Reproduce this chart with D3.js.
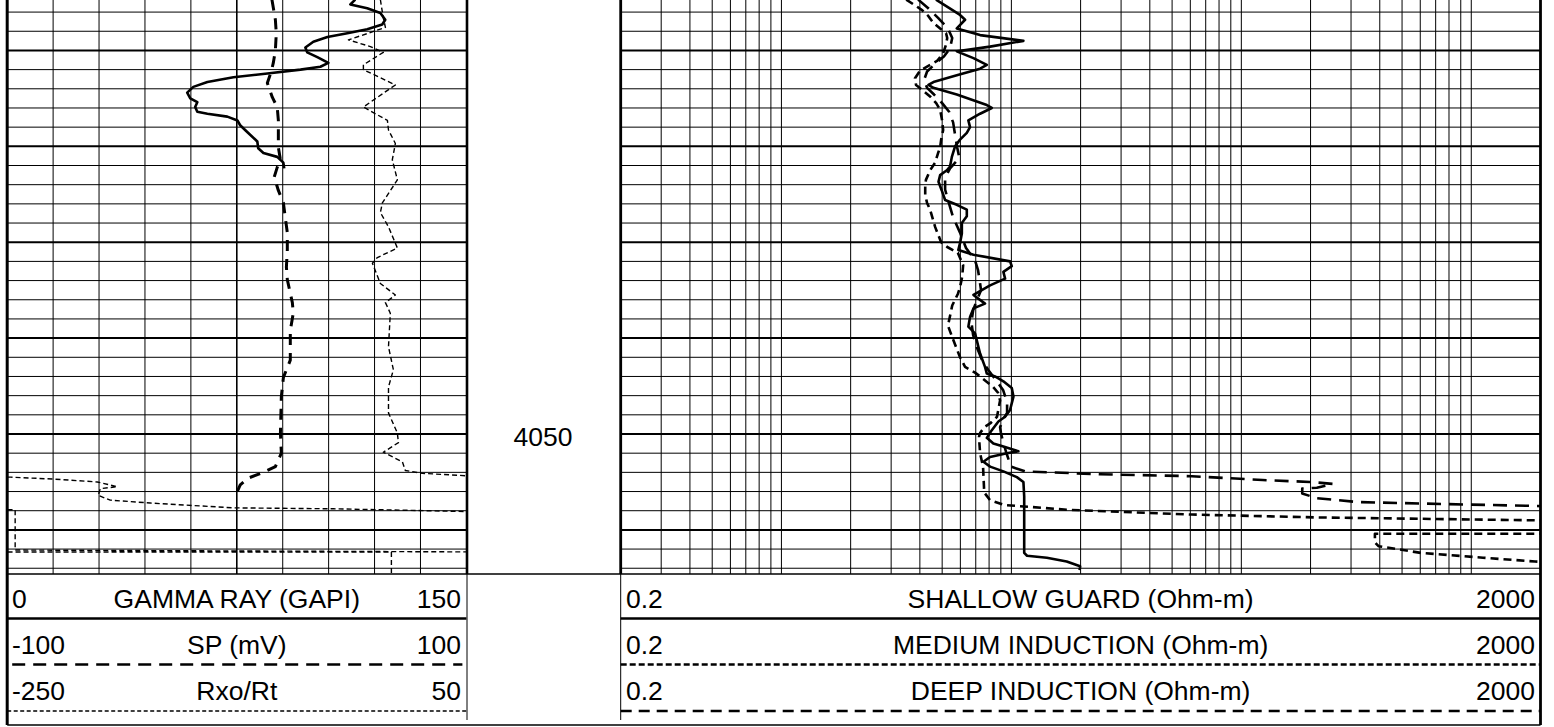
<!DOCTYPE html>
<html><head><meta charset="utf-8">
<script src="https://cdn.jsdelivr.net/npm/d3@7"></script>
<style>
body{margin:0;background:#fff}
svg{display:block}
text{font-family:"Liberation Sans",Arial,sans-serif;fill:#000}
</style>
</head><body>
<svg id="c" width="1554" height="727"></svg>
<script>
// ---------------- data ----------------
const depthDomain = [4004.74, 4064.6];
const gridDepths = d3.range(4006, 4065, 2);
const depthLabels = [4050];

const grDomain = [0, 150];
const spDomain = [-100, 100];
const rxoDomain = [-250, 50];
const resDomain = [0.2, 2000];

const grDepth = [4004.7,4005.2,4005.6,4006.1,4006.8,4007.3,4007.8,4008.2,4008.6,4009.1,
  4009.7,4010.2,4010.7,4011.3,4011.7,4012.0,4012.4,4012.8,4013.3,4013.8,
  4014.4,4015.0,4015.4,4015.9,4016.4,4016.6,4016.9,4017.3,4017.8,4018.5,
  4019.5,4020.2,4020.7,4021.1,4021.7,4022.3];
const grValue = [113.7,112.1,117.6,121.9,123.5,122.5,117.6,111.1,104.6,100.0,
  97.4,98.0,101.3,104.9,102.3,95.8,85.0,73.9,65.4,60.8,
  58.8,59.8,62.1,61.4,62.1,65.4,71.9,75.2,76.1,78.4,
  81.7,82.0,83.7,88.2,90.2,90.5];

const spDepth = [4004.7,4006.8,4008.2,4010.0,4011.3,4012.2,4013.4,4014.9,4015.9,4017.3,
  4020.1,4021.4,4022.2,4023.2,4024.6,4025.9,4027.4,4029.0,4030.8,4032.6,
  4033.9,4036.3,4037.4,4039.2,4042.3,4044.1,4046.1,4049.9,4052.0,4053.4,
  4054.0,4054.6,4055.3,4056.0];
const spValue = [15.3,16.8,17.2,16.8,15.9,15.0,13.3,15.5,17.6,18.1,
  18.1,19.0,17.6,16.3,18.1,20.3,21.1,22.0,22.0,21.6,
  22.0,24.2,24.6,23.3,23.3,20.3,19.4,19.0,19.4,16.8,
  11.5,5.0,1.5,0.2];

// null = break in the trace (the curve wraps off scale)
const rxoDepth = [4004.7,4006.6,4007.6,4008.9,4009.6,4010.2,4011.5,4012.0,4013.6,4015.9,
  4017.3,4018.3,4019.7,4021.4,4023.5,4025.9,4026.9,4028.4,4030.6,4031.6,
  4032.2,4034.3,4035.5,4036.3,4037.4,4040.9,4043.3,4045.1,4047.8,4049.9,
  4050.9,4051.9,4052.9,4053.8,4054.1,4054.4, null,
  4054.5,4054.5,4054.7,4055.0,4055.5,4055.7,4056.4,4056.9,4057.2,4057.7,4057.8,4058.1, null,
  4057.9,4057.9,4062.1,4062.3, null,
  4062.3,4062.3,4064.2,4064.6];
const rxoValue = [-6.2,-4.3,-2.9,-27.1,-12.7,-4.3,-17.3,-17.3,3.6,-17.3,
  -1.6,-0.9,3.6,1.6,4.9,-4.9,-6.2,-0.9,4.9,-8.2,
  -11.4,-6.2,3.6,-2.9,0.3,-0.9,2.3,-0.9,-0.9,4.9,
  5.6,-4.3,8.2,10.1,21.2,55, null,
  -255,-248,-219.9,-191.2,-178.1,-189.2,-190.5,-182.7,-156.5,-102.3,-36.9,55, null,
  -255,-244.8,-244.8,55, null,
  -255,1.0,1.0,1.0];

const shDepth = [4004.7,4006.3,4006.8,4007.7,4008.4,4009.0,4009.6,4010.1,4010.8,4011.5,
  4011.9,4012.6,4013.3,4013.6,4013.9,4014.6,4015.7,4016.0,4016.6,4017.3,
  4018.0,4018.6,4019.3,4020.0,4021.1,4022.1,4022.5,4023.0,4023.7,4024.6,
  4025.6,4026.1,4026.6,4027.3,4028.0,4029.1,4030.1,4030.8,4031.3,4032.0,
  4032.5,4033.1,4033.8,4034.5,4035.5,4036.4,4036.9,4037.8,4038.8,4039.5,
  4041.6,4043.0,4043.7,4044.0,4044.5,4045.2,4046.1,4047.5,4048.2,4048.7,
  4049.6,4050.4,4051.0,4051.3,4051.8,4052.0,4052.4,4052.9,4053.4,4053.9,
  4054.5,4055.0,4056.5,4062.4,4062.7,4062.9,4063.3,4063.8,4064.2];
const shValue = [4.7,5.98,6.29,5.79,7.31,11.28,8.08,5.79,6.84,7.82,
  7.31,5.79,4.58,4.36,4.58,5.79,7.82,8.22,7.31,6.50,
  6.61,6.40,5.98,5.69,5.51,5.41,5.24,4.90,4.82,4.98,
  5.15,5.79,6.40,6.40,6.09,6.09,5.98,5.88,6.84,9.87,
  10.04,9.23,9.39,8.08,6.84,7.68,6.84,6.61,6.50,6.95,
  7.31,7.68,7.82,8.49,9.23,10.04,10.21,9.87,9.39,8.78,
  8.22,7.82,8.35,9.23,10.73,9.55,8.08,7.56,8.08,9.23,
  10.56,11.28,11.37,11.37,11.7,14.26,17.4,19.9,19.8];

const medDepth = [4004.7,4005.3,4005.8,4006.4,4007.1,4007.7,4008.2,4008.7,4009.4,4010.3,
  4011.1,4011.5,4012.1,4012.9,4013.6,4014.1,4014.8,4015.5,4016.2,4017.3,
  4018.3,4019.3,4020.1,4020.7,4021.7,4022.5,4023.5,4024.2,4025.1,4025.9,
  4026.6,4027.7,4028.4,4029.2,4030.0,4030.5,4031.1,4032.4,4033.6,4034.7,
  4035.4,4036.6,4038.7,4039.9,4042.0,4043.0,4043.6,4044.0,4045.1,4045.7,
  4046.5,4048.2,4048.9,4049.3,4049.9,4050.3,4052.0,4053.4,4056.1,4056.9,
  4057.4,4057.9,4058.4,4058.7,4059.0,4059.0,4060.4,4060.4,4061.3,4061.7,
  4062.4,4062.9,4063.3,4063.4];
const medValue = [3.49,3.81,4.09,4.35,4.57,4.90,5.20,5.26,5.20,5.05,
  4.75,4.43,4.01,3.81,3.85,4.09,4.43,4.71,4.90,5.00,
  5.05,4.95,4.90,4.80,4.66,4.43,4.25,4.22,4.22,4.30,
  4.43,4.57,4.66,4.80,4.95,5.26,5.85,6.17,6.11,5.98,
  5.85,5.53,5.30,5.53,5.98,6.29,6.95,7.31,8.33,8.75,
  8.93,8.66,8.08,7.62,7.31,7.23,7.31,7.53,7.62,8.08,
  9.30,17.4,60.9,213,1893,2500,2500,381,381,395,
  604,1125,1893,2500];

const deepDepth = [4004.7,4005.6,4006.6,4007.7,4008.7,4009.8,4010.6,4011.4,4012.2,4013.1,
  4013.9,4014.6,4015.5,4016.4,4017.5,4018.8,4020.1,4021.2,4022.3,4023.3,
  4024.5,4025.6,4027.4,4029.0,4030.6,4031.9,4032.9,4034.3,4035.0,4036.0,
  4037.1,4038.3,4039.7,4041.0,4042.3,4043.3,4044.4,4045.4,4046.7,4047.8,
  4048.5,4049.3,4049.9,4050.8,4051.9,4052.8,4053.4,4053.9,4054.2,4054.4,
  4054.8,4055.0,4055.2,4055.6,4055.7,4056.2,4056.7,4057.1,4057.3,4057.5,
  4057.6];
const deepValue = [3.93,4.35,4.80,5.30,5.53,5.41,5.10,4.66,4.30,4.17,
  4.30,4.61,5.00,5.36,5.58,5.69,5.81,5.94,5.41,5.15,
  5.15,5.30,5.58,5.98,6.35,6.95,7.16,7.31,7.38,7.09,
  6.82,6.70,6.82,7.09,7.46,7.92,8.58,9.20,9.58,9.58,
  9.20,8.93,9.01,9.20,9.49,9.77,9.96,11.46,24.3,60.9,
  123.7,199,250,213,184,184,213,322,744,1893,
  2500];

const leftLo = ["0", "-100", "-250"];
const leftName = ["GAMMA RAY (GAPI)", "SP (mV)", "Rxo/Rt"];
const leftHi = ["150", "100", "50"];
const rightLo = ["0.2", "0.2", "0.2"];
const rightName = ["SHALLOW GUARD (Ohm-m)", "MEDIUM INDUCTION (Ohm-m)", "DEEP INDUCTION (Ohm-m)"];
const rightHi = ["2000", "2000", "2000"];

// ---------------- layout ----------------
const svg = d3.select("#c");
svg.append("rect").attr("width",1554).attr("height",727).attr("fill","#fff");

const T0 = 0, T1 = 574, HB = 725;
const L0 = 7.2, L1 = 466.4, R0 = 620.7, R1 = 1540.5;
const rowBase = [608, 653.5, 699.5];
const rowLine = [618.5, 664.5, 711];
const FS = 26.5;

const y = d3.scaleLinear().domain(depthDomain).range([T0, T1]);
const xGR = d3.scaleLinear().domain(grDomain).range([L0, L1]);
const xSP = d3.scaleLinear().domain(spDomain).range([L0, L1]);
const xRxo = d3.scaleLinear().domain(rxoDomain).range([L0, L1]);
const xRes = d3.scaleLog().domain(resDomain).range([R0, R1]);
const div = d3.scaleLinear().domain([0,10]).range([L0, L1]);

const defs = svg.append("defs");
defs.append("clipPath").attr("id","clipL").append("rect")
  .attr("x",L0).attr("y",T0).attr("width",L1-L0).attr("height",T1-T0);
defs.append("clipPath").attr("id","clipR").append("rect")
  .attr("x",R0).attr("y",T0).attr("width",R1-R0).attr("height",T1-T0);

function ln(g,x1,y1,x2,y2,w,dash){
  const l = g.append("line").attr("x1",x1).attr("y1",y1).attr("x2",x2).attr("y2",y2)
    .attr("stroke","#000").attr("stroke-width",w);
  if(dash) l.attr("stroke-dasharray",dash);
  return l;
}

// grid
const grid = svg.append("g");
d3.range(1,10).forEach(i => ln(grid, div(i), T0, div(i), T1, i===5?1.6:1));
const logTicks = [];
[0.1,1,10,100,1000].forEach(b => d3.range(1,10).forEach(m => {
  const v = +(b*m).toPrecision(3);
  if (v > resDomain[0] && v < resDomain[1]) logTicks.push(v);
}));
logTicks.forEach(v => ln(grid, xRes(v), T0, xRes(v), T1, 1));
gridDepths.forEach(d => {
  const w = d % 10 === 0 ? 2 : 1;
  ln(grid, L0, y(d), L1, y(d), w);
  ln(grid, R0, y(d), R1, y(d), w);
});

// depth labels
depthLabels.forEach(d => svg.append("text").attr("x",543).attr("y",y(d)+11.5)
  .attr("text-anchor","middle").attr("font-size",FS).text(d));

// curves
function curve(clip, depth, value, xs, w, dash){
  const data = d3.zip(depth, value);
  const line = d3.line().defined(d => d[0] !== null && d[1] !== null)
    .x(d => xs(d[1])).y(d => y(d[0]));
  const p = svg.append("path").attr("clip-path",`url(#${clip})`)
    .attr("d", line(data)).attr("fill","none").attr("stroke","#000")
    .attr("stroke-width",w).attr("stroke-linejoin","round");
  if (dash) p.attr("stroke-dasharray",dash);
}
curve("clipL", rxoDepth, rxoValue, xRxo, 1.4, "5,3");
curve("clipL", spDepth, spValue, xSP, 3, "11,8");
curve("clipL", grDepth, grValue, xGR, 2.6, null);
curve("clipR", medDepth, medValue, xRes, 2.6, "8,5");
curve("clipR", deepDepth, deepValue, xRes, 2.6, "14,8");
curve("clipR", shDepth, shValue, xRes, 2.6, null);

// frame
const fr = svg.append("g");
ln(fr, L0, T0, L0, HB, 3);
ln(fr, L1+0.6, T0, L1+0.6, T1, 2.6);
ln(fr, L1+0.6, T1, L1+0.6, 720, 1);
ln(fr, R0, T0, R0, T1, 2.8);
ln(fr, R0, T1, R0, 720, 1);
ln(fr, R1, T0, R1, HB, 2.8);
ln(fr, L0, T1, R1, T1, 1.5);
ln(fr, L0, HB, R1, HB, 1.5);

// header lines
ln(fr, L0, rowLine[0], L1, rowLine[0], 2.6);
ln(fr, L0+5, rowLine[1], L1-4, rowLine[1], 2.6, "13,8");
ln(fr, L0, rowLine[2], L1, rowLine[2], 1.4, "4,2.5");
ln(fr, R0, rowLine[0], R1, rowLine[0], 2.6);
ln(fr, R0, rowLine[1], R1, rowLine[1], 2.6, "6,3");
ln(fr, R0, rowLine[2], R1, rowLine[2], 2.6, "11,7");

// header texts
const hdr = svg.append("g").attr("font-size",FS);
leftName.forEach((t,i) => {
  hdr.append("text").attr("x",12).attr("y",rowBase[i]).text(leftLo[i]);
  hdr.append("text").attr("x",(L0+L1)/2).attr("y",rowBase[i]).attr("text-anchor","middle").text(t);
  hdr.append("text").attr("x",461).attr("y",rowBase[i]).attr("text-anchor","end").text(leftHi[i]);
});
rightName.forEach((t,i) => {
  hdr.append("text").attr("x",626).attr("y",rowBase[i]).text(rightLo[i]);
  hdr.append("text").attr("x",(R0+R1)/2).attr("y",rowBase[i]).attr("text-anchor","middle").text(t);
  hdr.append("text").attr("x",1535).attr("y",rowBase[i]).attr("text-anchor","end").text(rightHi[i]);
});
</script>
</body></html>
